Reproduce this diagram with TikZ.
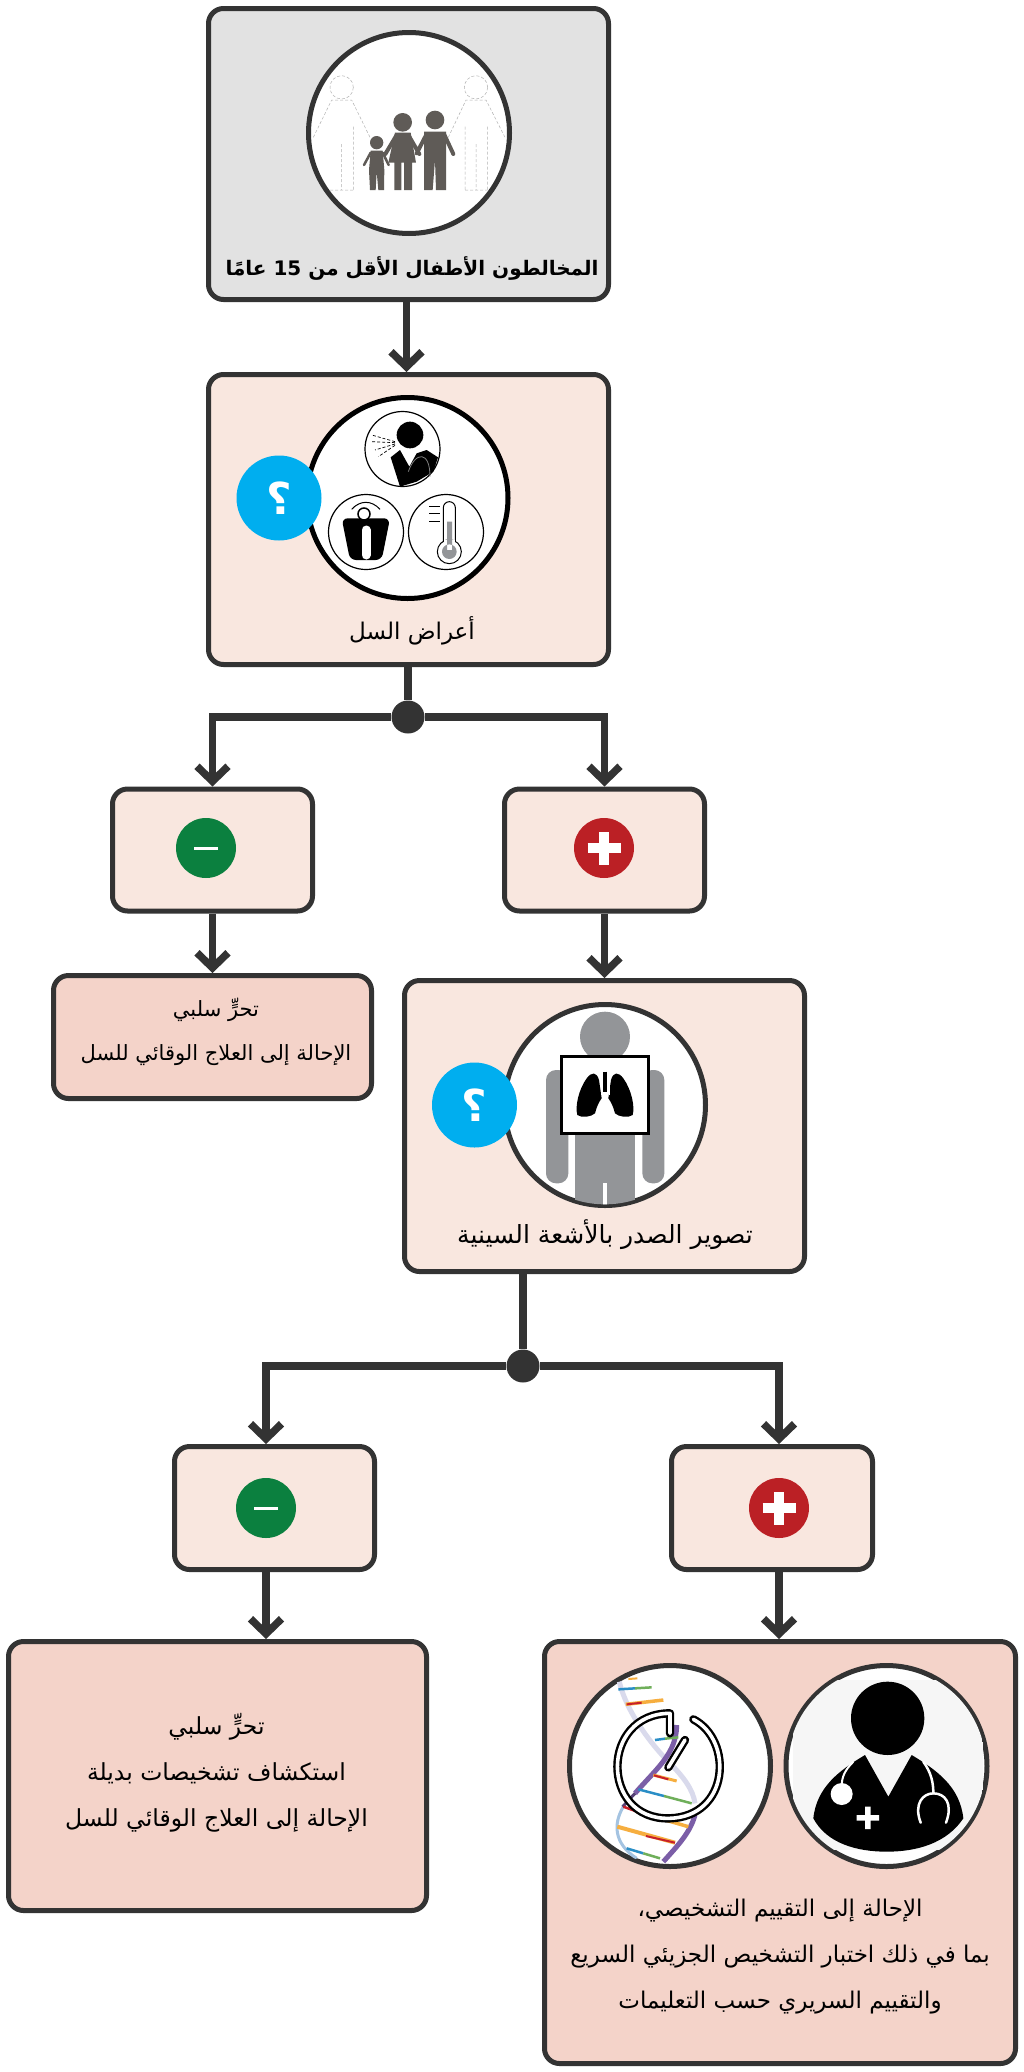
\documentclass[tikz,border=0pt]{standalone}
\usepackage{fontspec}
\usepackage{xcolor}
\usetikzlibrary{arrows.meta}
\TeXXeTstate=1
\newfontfamily\arabicfont[Script=Arabic]{DejaVu Sans}
\newcommand{\artext}[1]{{\arabicfont\beginR #1\endR}}
\definecolor{linedark}{HTML}{333333}
\definecolor{boxgray}{HTML}{E2E2E2}
\definecolor{boxlight}{HTML}{F9E7DF}
\definecolor{boxdark}{HTML}{F4D3C9}
\definecolor{qblue}{HTML}{00AEEF}
\definecolor{posred}{HTML}{BB2025}
\definecolor{neggreen}{HTML}{0B803F}
\definecolor{famgray}{HTML}{5F5B57}
\definecolor{bodygray}{HTML}{939598}
\definecolor{dnapurple}{HTML}{7B5EA7}
\definecolor{dnapale}{HTML}{D9DAEC}
\definecolor{dnablue}{HTML}{2A8EC6}
\definecolor{dnagreen}{HTML}{6FAF5A}
\definecolor{dnaorange}{HTML}{F6AE3F}
\definecolor{dnared}{HTML}{C8202A}
\newcommand{\plussign}[1]{%
  \draw[white, line width=10pt] ([xshift=-16.5pt]#1.center) -- ([xshift=16.5pt]#1.center);
  \draw[white, line width=10pt] ([yshift=-16.5pt]#1.center) -- ([yshift=16.5pt]#1.center);}
\newcommand{\minussign}[1]{%
  \draw[white, line width=3pt] ([xshift=-12pt]#1.center) -- ([xshift=12pt]#1.center);}

\begin{document}
\begin{tikzpicture}[
  x=1pt, y=-1pt,
  arr/.style={-{Straight Barb[length=15pt,width=31pt]}, line width=7.5pt, linedark},
  plain/.style={line width=7.5pt, linedark},
  flowbox/.style={draw=linedark, line width=5pt, rounded corners=15pt, inner sep=0pt, anchor=center},
  iconring/.style={circle, draw=linedark, line width=5pt, fill=white, inner sep=0pt, minimum size=201pt},
  thinring/.style={circle, draw=black, line width=1.2pt, fill=white, inner sep=0pt, minimum size=75pt},
  sign/.style={circle, inner sep=0pt, minimum size=60pt},
  qbadge/.style={circle, fill=qblue, inner sep=0pt, minimum size=85pt, text=white, font=\fontsize{44}{44}\selectfont\bfseries},
  splitdot/.style={circle, fill=linedark, inner sep=0pt, minimum size=33pt},
  lbl/.style={align=center, inner sep=0pt, text=black},
  limb/.style={famgray, line width=4pt, line cap=round},
  ghost/.style={gray!60, line width=.5pt, densely dashed},
]
\useasboundingbox (0,0) rectangle (1024,2072);
% boxes
\node[flowbox, fill=boxgray, minimum width=400pt, minimum height=291pt] (kids) at (408.5,154) {};
\node[flowbox, fill=boxlight, minimum width=400pt, minimum height=290pt] (symptoms) at (408.5,519.5) {};
\node[flowbox, fill=boxlight, minimum width=200pt, minimum height=122pt] (negA) at (212.5,850) {};
\node[flowbox, fill=boxlight, minimum width=200pt, minimum height=122pt] (posA) at (604.5,850) {};
\node[flowbox, fill=boxdark, minimum width=318pt, minimum height=123pt] (endA) at (212.5,1037) {};
\node[flowbox, fill=boxlight, minimum width=400pt, minimum height=291pt] (xray) at (604.5,1126) {};
\node[flowbox, fill=boxlight, minimum width=200pt, minimum height=123pt] (negB) at (274.5,1508) {};
\node[flowbox, fill=boxlight, minimum width=201pt, minimum height=123pt] (posB) at (772,1508) {};
\node[flowbox, fill=boxdark, minimum width=418pt, minimum height=269pt] (endB) at (217.5,1776) {};
\node[flowbox, fill=boxdark, minimum width=471pt, minimum height=422pt] (endC) at (780,1852.5) {};
% signs
\node[sign, fill=neggreen] (signNegA) at (206,848) {};
\node[sign, fill=posred] (signPosA) at (604,848) {};
\node[sign, fill=neggreen] (signNegB) at (266,1508) {};
\node[sign, fill=posred] (signPosB) at (779,1508) {};
\minussign{signNegA}
\plussign{signPosA}
\minussign{signNegB}
\plussign{signPosB}
% connectors
\node[splitdot] (splitA) at (408,717) {};
\node[splitdot] (splitB) at (523,1366) {};
\draw[arr] ([xshift=-2pt]kids.south) -- ([xshift=-2pt]symptoms.north);
\draw[plain] (splitA |- symptoms.south) -- (splitA);
\draw[arr] (splitA) -| (negA.north);
\draw[arr] (splitA) -| (posA.north);
\draw[arr] (negA.south) -- (endA.north);
\draw[arr] (posA.south) -- (xray.north);
\draw[plain] (splitB |- xray.south) -- (splitB);
\draw[arr] (splitB) -| (signNegB |- negB.north);
\draw[arr] (splitB) -| (signPosB |- posB.north);
\draw[arr] (signNegB |- negB.south) -- (signNegB |- endB.north);
\draw[arr] (signPosB |- posB.south) -- (signPosB |- endC.north);
% children icon
\node[iconring] (famRing) at (409,133) {};
\begin{scope}[shift={(200,0)}, scale=1/3]
\draw[ghost] (425,262) circle[radius=35] (828,262) circle[radius=35];
\draw[ghost] (340,412) -- (395,300) -- (455,300) -- (510,412) (425,432) -- (425,570) (460,380) -- (460,570) (390,570) -- (460,570);
\draw[ghost] (745,412) -- (798,300) -- (858,300) -- (915,412) (828,432) -- (828,570) (795,380) -- (795,570) (795,570) -- (862,570) (862,380) -- (862,570);
\fill[famgray] (530,428) circle[radius=20] (608,367) circle[radius=28] (705,360) circle[radius=28];
\fill[famgray] (512,452) -- (548,452) -- (553,510) -- (552,570) -- (535,570) -- (530,515) -- (527,570) -- (510,570) -- (507,510) -- cycle;
\fill[famgray] (585,398) -- (632,398) -- (648,488) -- (636,488) -- (636,570) -- (612,570) -- (612,488) -- (604,488) -- (604,570) -- (583,570) -- (583,488) -- (565,488) -- cycle;
\fill[famgray] (672,395) -- (738,395) -- (738,570) -- (708,570) -- (705,480) -- (698,570) -- (672,570) -- cycle;
\draw[limb, line width=2.5pt] (512,458) -- (492,495) (548,458) -- (566,495);
\draw[limb] (590,405) -- (556,462) (625,405) -- (658,462) (680,402) -- (650,460) (732,402) -- (760,462);
\end{scope}
% symptoms icon
\node[iconring, draw=black] (sympRing) at (407.5,498) {};
\node[thinring] (cough) at (402.5,449) {};
\node[thinring] (weight) at (366,532) {};
\node[thinring] (fever) at (446,532) {};
\begin{scope}[shift={(200,370)}, scale=1/3]
\fill[black] (630,195) circle[radius=40];
\fill[black] (572,262) -- (600,240) -- (628,290) -- (650,250) -- (680,240) -- (714,262) -- (700,305) -- (650,335) -- (600,350) -- cycle;
\draw[gray, line width=.8pt] (625,305) .. controls (645,245) and (690,240) .. (690,320);
\draw[black, line width=.7pt, densely dashed] (585,215) -- (515,195) (585,218) -- (515,215) (585,222) -- (525,240) (585,226) -- (535,260);
\fill[black, rounded corners=6pt] (425,445) -- (570,445) -- (545,570) -- (450,570) -- cycle;
\draw[white, line width=9pt, line cap=round] (498,480) -- (498,555);
\draw[black, line width=1pt] (455,418) .. controls (480,390) and (515,390) .. (540,418);
\node[circle, draw=black, fill=white, line width=1.5pt, inner sep=0pt, minimum size=12pt] (dial) at (492,432) {};
\draw[black, line width=1pt, fill=white, rounded corners=6pt] (730,520) -- (730,395) -- (766,395) -- (766,520);
\draw[black, line width=1pt, fill=white] (748,545) circle[radius=36];
\fill[white] (731,510) rectangle (765,530);
\fill[bodygray] (741,455) rectangle (756,540) (748,545) circle[radius=22];
\draw[black, line width=1pt] (688,408) -- (720,408) (688,430) -- (720,430) (688,453) -- (720,453);
\end{scope}
\node[qbadge] (askA) at (279,498) {\artext{؟}};
% chest icon
\node[iconring] (chestRing) at (605,1105) {};
\begin{scope}[shift={(400,970)}, scale=1/3]
\clip (615,405) circle[radius=298];
\fill[bodygray] (615,200) circle[radius=75];
\fill[bodygray, rounded corners=10pt] (438,640) rectangle (505,300) (727,640) rectangle (793,300);
\fill[bodygray] (525,450) rectangle (705,720);
\fill[white] (608,640) rectangle (622,720);
\draw[black, line width=3.3pt, fill=white] (485,260) rectangle (745,490);
\fill[black] (597,330) .. controls (590,305) and (575,305) .. (560,325) .. controls (535,360) and (525,410) .. (532,435) .. controls (545,445) and (575,440) .. (585,430) .. controls (590,410) and (597,395) .. (605,385) -- cycle;
\fill[black] (633,330) .. controls (640,305) and (655,305) .. (670,325) .. controls (695,360) and (705,410) .. (698,435) .. controls (685,445) and (655,440) .. (645,430) .. controls (640,410) and (633,395) .. (625,385) -- cycle;
\draw[white, line width=1pt] (603,330) -- (603,375) (627,330) -- (627,375);
\draw[black, line width=3.5pt] (615,305) -- (615,365);
\end{scope}
\node[qbadge] (askB) at (474.5,1105) {\artext{؟}};
% test and doctor icons
\node[iconring] (dnaRing) at (670,1766) {};
\node[iconring] (docRing) at (886.5,1766) {};
\begin{scope}[shift={(560,1650)}, scale=1/3]
\clip (330,345) circle[radius=300];
\draw[dnapale, line width=5pt] (178,95) .. controls (200,190) and (280,290) .. (330,340) .. controls (370,380) and (400,420) .. (405,460);
\draw[dnapale!70!dnablue, line width=3pt] (190,470) .. controls (160,520) and (160,580) .. (230,625);
\draw[dnapurple, line width=5pt] (350,225) .. controls (350,310) and (290,355) .. (225,430);
\draw[dnapurple!70!black, line width=3pt] (225,430) -- (188,470);
\draw[dnapurple, line width=5pt] (405,495) .. controls (390,550) and (350,590) .. (310,635);
\draw[line width=2.5pt, dnablue] (175,118) -- (225,115);
\draw[line width=2.5pt, dnagreen] (225,115) -- (275,112);
\draw[line width=3.5pt, dnaorange] (197,163) -- (310,150);
\draw[line width=2pt, dnared] (200,163) -- (245,158);
\draw[line width=2pt, dnaorange] (205,87) -- (232,85);
\draw[line width=2.5pt, dnablue] (285,270) -- (315,266);
\draw[line width=2.5pt, dnagreen] (315,266) -- (355,262);
\draw[line width=3pt, dnaorange] (280,375) -- (350,393);
\draw[line width=2pt, dnared] (282,376) -- (325,388);
\draw[line width=2.5pt, dnablue] (235,418) -- (312,438);
\draw[line width=2.5pt, dnagreen] (312,438) -- (395,460);
\draw[line width=3.5pt, dnaorange] (230,485) -- (385,530);
\draw[line width=2.5pt, dnared] (190,470) -- (240,488);
\draw[line width=4pt, dnaorange] (172,530) -- (345,578);
\draw[line width=2pt, dnared] (258,558) -- (345,578);
\draw[line width=2.5pt, dnablue] (200,595) -- (250,610);
\draw[line width=2.5pt, dnagreen] (250,610) -- (300,625);
\draw[black, line width=2.4pt, double=white, double distance=3.6pt, line cap=round, line join=round] (400,208) .. controls (520,270) and (510,500) .. (328,505) .. controls (120,510) and (120,190) .. (330,190) -- (330,250);
\draw[black, line width=2.4pt, double=white, double distance=3.6pt, line cap=round] (375,270) -- (325,352);
\end{scope}
\begin{scope}[shift={(540,1630)}, scale=1/3]
\clip (1040,408) circle[radius=297];
\fill[gray!7] (760,150) rectangle (1330,660);
\fill[black] (1043,265) circle[radius=110];
\fill[black] (820,565) .. controls (830,470) and (900,420) .. (975,375) -- (1045,500) -- (1115,375) .. controls (1190,420) and (1260,470) .. (1270,565) .. controls (1220,640) and (1130,665) .. (1040,665) .. controls (950,665) and (860,640) .. (820,565) -- cycle;
\draw[white, line width=2pt] (940,395) .. controls (915,420) and (905,440) .. (905,470);
\fill[white] (905,492) circle[radius=33];
\draw[white, line width=2.5pt, line cap=round] (1150,395) .. controls (1175,430) and (1180,460) .. (1180,490);
\draw[white, line width=2.5pt, line cap=round] (1142,578) .. controls (1120,520) and (1150,490) .. (1180,490) .. controls (1215,490) and (1240,520) .. (1218,578);
\fill[white] (975,530) rectangle (992,597) (950,555) rectangle (1017,572);
\end{scope}
% labels
\node[lbl, font=\fontsize{20}{46}\selectfont] (kidsT) at (412,268) {\bfseries\artext{المخالطون الأطفال الأقل من \beginL 15\endL{} عامًا}};
\node[lbl, font=\fontsize{23}{46}\selectfont] (symptomsT) at (412,631) {\artext{أعراض السل}};
\node[lbl, font=\fontsize{21}{44}\selectfont] (endAT) at (216,1032) {\artext{تحرٍّ سلبي}\\\artext{الإحالة إلى العلاج الوقائي للسل}};
\node[lbl, font=\fontsize{25}{46}\selectfont] (xrayT) at (605,1235) {\artext{تصوير الصدر بالأشعة السينية}};
\node[lbl, font=\fontsize{23.5}{46}\selectfont] (endBT) at (216.5,1773) {\artext{تحرٍّ سلبي}\\\artext{استكشاف تشخيصات بديلة}\\\artext{الإحالة إلى العلاج الوقائي للسل}};
\node[lbl, font=\fontsize{23}{46}\selectfont] (endCT) at (780,1957) {\artext{الإحالة إلى التقييم التشخيصي،}\\\artext{بما في ذلك اختبار التشخيص الجزيئي السريع}\\\artext{والتقييم السريري حسب التعليمات}};
\end{tikzpicture}
\end{document}
